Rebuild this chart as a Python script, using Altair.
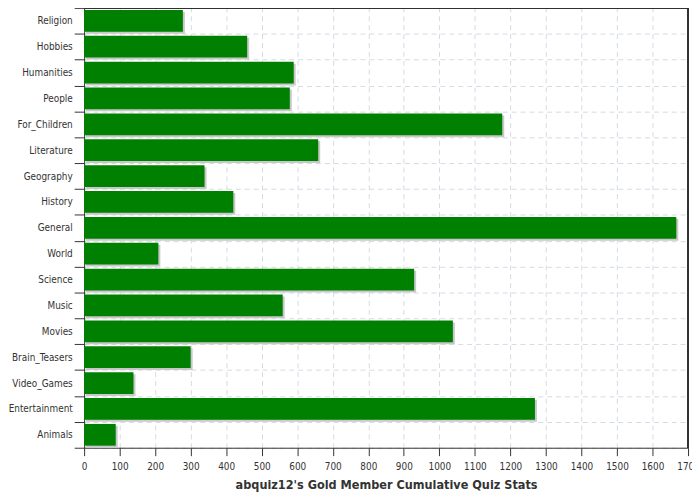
import altair as alt
import pandas as pd

categories = ["Religion", "Hobbies", "Humanities", "People", "For_Children", "Literature",
              "Geography", "History", "General", "World", "Science", "Music", "Movies",
              "Brain_Teasers", "Video_Games", "Entertainment", "Animals"]
values = [278, 459, 590, 579, 1177, 659, 339, 420, 1667, 209, 929, 559, 1038, 300, 139, 1269, 89]
x_ticks = list(range(0, 1800, 100))

df = pd.DataFrame({"category": categories, "value": values})

FONT = "DejaVu Sans Condensed, DejaVu Sans"

y_enc = alt.Y("category:N", sort=categories, title=None,
              scale=alt.Scale(paddingInner=0, paddingOuter=0),
              axis=alt.Axis(tickBand="extent", grid=True, gridColor="#d3dbe3", gridDash=[5, 4],
                            domainColor="#333333", tickColor="#333333", tickSize=10,
                            labelFont=FONT, labelFontSize=10, labelColor="#333333",
                            labelPadding=2))
x_enc = alt.X("value:Q", title="abquiz12's Gold Member Cumulative Quiz Stats",
              scale=alt.Scale(domain=[0, 1700], nice=False),
              axis=alt.Axis(values=x_ticks, format="d", grid=True, gridColor="#d3dbe3", gridDash=[5, 4],
                            domainColor="#333333", tickColor="#333333", tickSize=8,
                            labelFont=FONT, labelFontSize=10, labelColor="#333333",
                            labelPadding=6, labelFlush=False, labelOverlap=False,
                            titleFont=FONT, titleFontSize=12.7, titleFontWeight="bold",
                            titleColor="#333333", titlePadding=7))

shadow = alt.Chart(df).mark_bar(color="#c8c8c8", height={"band": 0.84}, xOffset=2, yOffset=2).encode(
    x=x_enc, y=y_enc)
bars = alt.Chart(df).mark_bar(color="#008000", height={"band": 0.84}).encode(
    x=x_enc, y=y_enc, tooltip=["category", "value"])

top_rule = alt.Chart(df).mark_rule(color="#333333", strokeWidth=1).encode(
    x=alt.value(0), x2=alt.value(611), y=alt.value(0))
right_rule = alt.Chart(df).mark_rule(color="#333333", strokeWidth=1).encode(
    x=alt.value(611), y=alt.value(0), y2=alt.value(445))

chart = alt.layer(shadow, bars, top_rule, right_rule).properties(
    width=611, height=445,
    autosize=alt.AutoSizeParams(type="none"),
    padding={"left": 77, "top": -3, "right": 4, "bottom": 50},
).configure_view(stroke=None)

chart.save("out.html", embed_options={"renderer": "svg", "actions": False})
